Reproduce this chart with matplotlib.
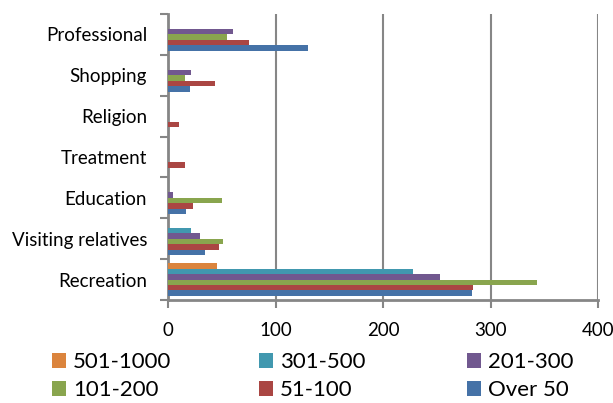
import numpy as np
import matplotlib
matplotlib.use("Agg")
import matplotlib.pyplot as plt

plt.rcParams['font.family'] = ['Lato', 'DejaVu Sans']

# categories from bottom to top
categories = ["Recreation", "Visiting relatives", "Education", "Treatment",
              "Religion", "Shopping", "Professional"]

# series, listed bottom bar first inside each group
over_50 = [283, 34, 17, 0, 0, 20, 130]
r51_100 = [284, 47, 23, 16, 10, 44, 75]
r101_200 = [343, 51, 50, 0, 0, 16, 55]
r201_300 = [253, 30, 5, 0, 0, 21, 60]
r301_500 = [228, 21, 0, 0, 0, 0, 0]
r501_1000 = [46, 0, 0, 0, 0, 0, 0]

series = [("Over 50", over_50, "#4572A7"),
          ("51-100", r51_100, "#AA4643"),
          ("101-200", r101_200, "#89A54E"),
          ("201-300", r201_300, "#71588F"),
          ("301-500", r301_500, "#4198AF"),
          ("501-1000", r501_1000, "#DB843D")]

W, H = 613, 403
fig = plt.figure(figsize=(W/100, H/100), dpi=100)
ax = fig.add_axes([168/W, 1-300/H, 430/W, 286/H])

y = np.arange(len(categories))
n = len(series)
h = 0.8/n
handles = {}
for i, (name, vals, col) in enumerate(series):
    off = -0.4 + h*(i+0.5)
    b = ax.barh(y+off, vals, height=h, color=col, zorder=3)
    handles[name] = b

ax.set_xlim(0, 400)
ax.set_ylim(-0.5, len(categories)-0.5)
ax.set_xticks([0, 100, 200, 300, 400])
ax.set_yticks(np.arange(-0.5, len(categories), 1.0))
ax.set_yticks(y, minor=True)
ax.set_yticklabels([])
ax.set_yticklabels(categories, minor=True)
ax.tick_params(axis='y', which='minor', length=0, pad=15, labelsize=13.5)
ax.tick_params(axis='y', which='major', length=6, width=1.5, color="#868686")
ax.tick_params(axis='x', length=6, width=1.5, color="#868686", pad=10, labelsize=13.5)

ax.grid(axis='x', color="#868686", linewidth=1.5, zorder=0)
for s in ["top", "right"]:
    ax.spines[s].set_visible(False)
for s in ["left", "bottom"]:
    ax.spines[s].set_color("#868686")
    ax.spines[s].set_linewidth(2)

# legend: 2 rows x 3 columns, one small legend per entry so the columns
# sit at fixed places like in the original
legend_rows = [["501-1000", "301-500", "201-300"],
               ["101-200", "51-100", "Over 50"]]
col_x = [52, 259, 467]
row_y = [362, 390]
for r, row in enumerate(legend_rows):
    for c, name in enumerate(row):
        leg = fig.legend([handles[name]], [name], loc="center left",
                         bbox_to_anchor=(col_x[c]/W, 1-row_y[r]/H),
                         frameon=False, fontsize=16, borderpad=0,
                         borderaxespad=0, handlelength=0.65, handleheight=0.65,
                         handletextpad=0.3)

fig.savefig("out.png", dpi=100)
